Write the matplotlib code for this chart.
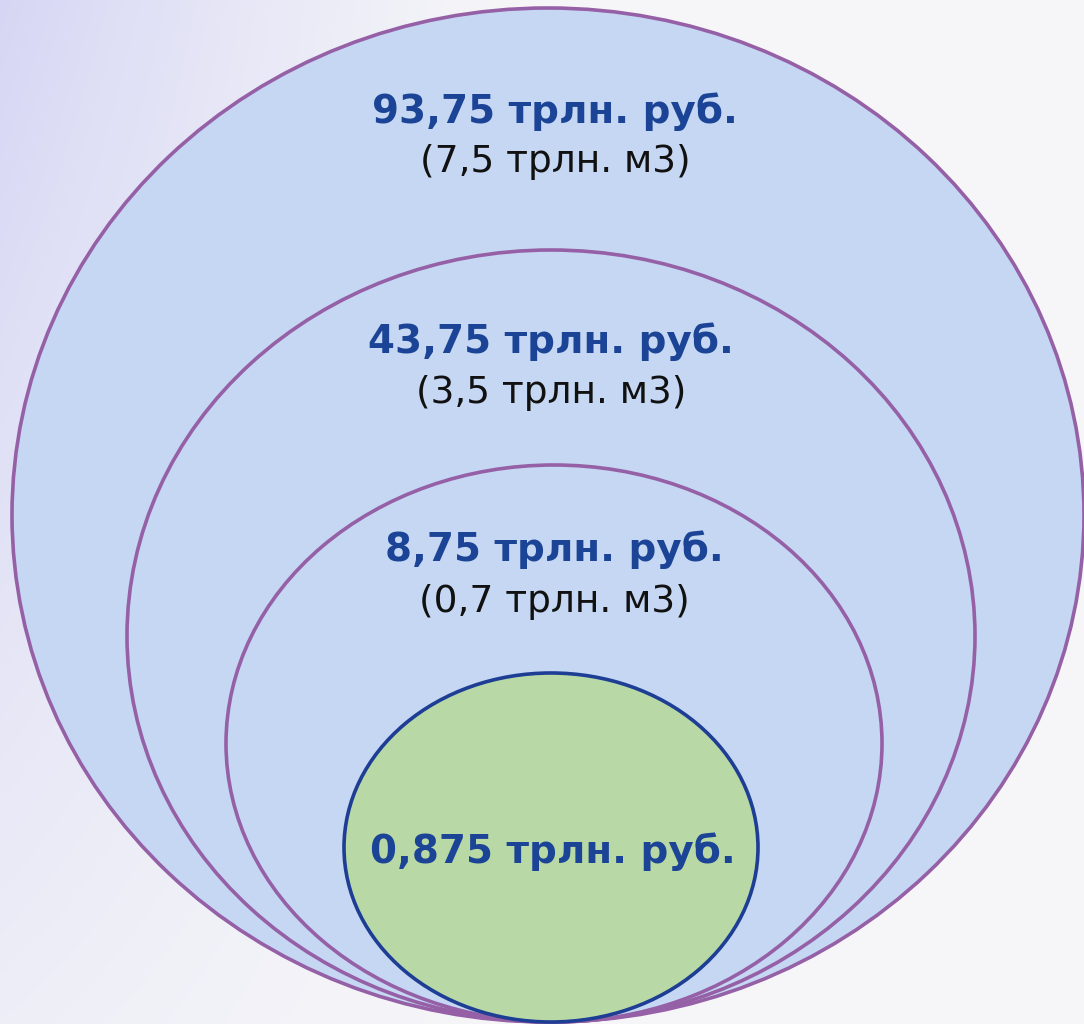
import numpy as np
import matplotlib
matplotlib.use("Agg")
import matplotlib.pyplot as plt
from matplotlib.patches import Ellipse

# Nested estimates, largest to smallest
value_labels = ["93,75 трлн. руб.", "43,75 трлн. руб.", "8,75 трлн. руб.", "0,875 трлн. руб."]
volume_labels = ["(7,5 трлн. м3)", "(3,5 трлн. м3)", "(0,7 трлн. м3)", None]

W, H = 1084, 1024
fig = plt.figure(figsize=(W / 100, H / 100), dpi=100)
ax = fig.add_axes([0, 0, 1, 1])
ax.set_xlim(0, W)
ax.set_ylim(H, 0)
ax.axis("off")

# soft lavender wash on the left fading to near-white on the right
yy, xx = np.mgrid[0:H, 0:W]
w = np.clip(1 - xx / 520, 0, 1) ** 1.2 * np.clip(1 - 0.75 * yy / H, 0, 1)
lav = np.array([0.84, 0.84, 0.96])
white = np.array([0.965, 0.965, 0.975])
bg = white[None, None, :] * (1 - w[..., None]) + lav[None, None, :] * w[..., None]
ax.imshow(bg, extent=(0, W, H, 0), zorder=0, aspect="auto")

# ellipse geometry: centre x, width, height; all share a common bottom
bottom = 1022
shapes = [(548, 1072, 1014), (551, 848, 772), (554, 656, 557), (551, 414, 349)]
fills = ["#C5D7F2", "#C5D7F2", "#C5D7F2", "#B8D9A5"]
edges = ["#9560A6", "#9560A6", "#9560A6", "#1D3E94"]

for (cx, w_, h), fc, ec in zip(shapes, fills, edges):
    ax.add_patch(Ellipse((cx, bottom - h / 2), w_, h, facecolor=fc,
                         edgecolor=ec, linewidth=2.6, zorder=2))

title_y = [112, 342, 550, 852]
sub_y = [162, 393, 602]
text_x = [555, 551, 554, 553]
for i, lab in enumerate(value_labels):
    ax.text(text_x[i], title_y[i], lab, ha="center", va="center",
            fontsize=28, fontweight="bold", color="#1C4496",
            family="DejaVu Sans", zorder=3)
    if volume_labels[i]:
        ax.text(text_x[i], sub_y[i], volume_labels[i], ha="center", va="center",
                fontsize=27, color="#111111", family="DejaVu Sans", zorder=3)

fig.savefig("out.png", dpi=100)
